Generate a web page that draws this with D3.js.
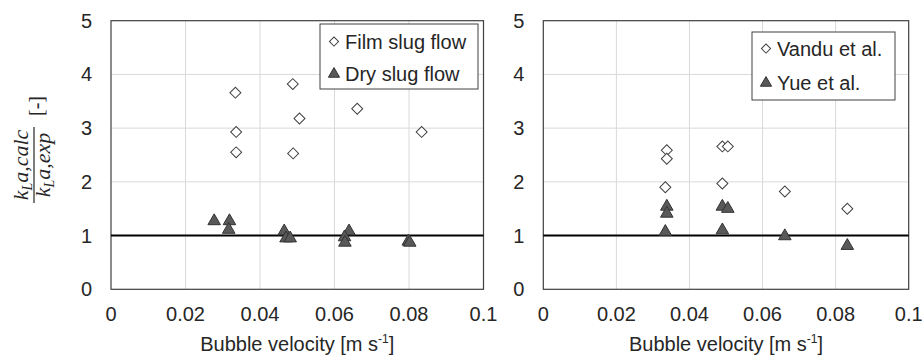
<!DOCTYPE html>
<html>
<head>
<meta charset="utf-8">
<script src="https://cdn.jsdelivr.net/npm/d3@7"></script>
<style>
  body { margin: 0; background: #fff; }
  svg { display: block; font-family: "Liberation Sans", Arial, sans-serif; }
</style>
</head>
<body>
<div id="chart"></div>
<script>
// left panel: film vs dry slug flow
const filmSlug = [
  [0.0334, 3.66], [0.0336, 2.93], [0.0336, 2.55], [0.0488, 3.82],
  [0.0506, 3.18], [0.0489, 2.53], [0.0661, 3.36], [0.0834, 2.93]
];
const drySlug = [
  [0.0277, 1.27], [0.0318, 1.27], [0.0316, 1.11], [0.0465, 1.08],
  [0.0470, 0.95], [0.0481, 0.95], [0.0639, 1.08], [0.0627, 0.97],
  [0.0628, 0.87], [0.0798, 0.89], [0.0802, 0.87]
];
// right panel: literature correlations
const vandu = [
  [0.0338, 2.59], [0.0338, 2.43], [0.0334, 1.90], [0.0490, 2.66],
  [0.0505, 2.66], [0.0490, 1.97], [0.0661, 1.82], [0.0832, 1.50]
];
const yue = [
  [0.0338, 1.54], [0.0338, 1.41], [0.0334, 1.07], [0.0490, 1.54],
  [0.0505, 1.50], [0.0490, 1.10], [0.0661, 0.99], [0.0832, 0.81]
];
const xTicks = [0, 0.02, 0.04, 0.06, 0.08, 0.1];
const yTicks = [0, 1, 2, 3, 4, 5];
const refLine = 1;

const width = 922, height = 355;
const plotTop = 20.7, plotBottom = 289.3;
const textColor = "#262626";
const fs = 20;

const svg = d3.select("#chart").append("svg")
  .attr("width", width)
  .attr("height", height);

const diamond = d3.symbol(d3.symbolSquare, 60);
const triangle = d3.symbol(d3.symbolTriangle, 68);

function panel(x0, x1, seriesA, seriesB, names, legendBox) {
  const x = d3.scaleLinear().domain([0, 0.1]).range([x0, x1]);
  const y = d3.scaleLinear().domain([0, 5]).range([plotBottom, plotTop]);
  const g = svg.append("g");

  // gridlines
  g.append("g").selectAll("line")
    .data(xTicks.slice(1, -1))
    .join("line")
    .attr("x1", d => x(d)).attr("x2", d => x(d))
    .attr("y1", plotTop).attr("y2", plotBottom)
    .attr("stroke", "#d9d9d9").attr("stroke-width", 1);
  g.append("g").selectAll("line")
    .data(yTicks.slice(1, -1))
    .join("line")
    .attr("x1", x0).attr("x2", x1)
    .attr("y1", d => y(d)).attr("y2", d => y(d))
    .attr("stroke", "#d9d9d9").attr("stroke-width", 1);

  // plot frame
  g.append("rect")
    .attr("x", x0).attr("y", plotTop)
    .attr("width", x1 - x0).attr("height", plotBottom - plotTop)
    .attr("fill", "none").attr("stroke", "#404040").attr("stroke-width", 1.2);

  // reference line at 1
  g.append("line")
    .attr("x1", x(0)).attr("x2", x(0.1))
    .attr("y1", y(refLine)).attr("y2", y(refLine))
    .attr("stroke", "#000").attr("stroke-width", 2);

  // tick labels
  g.append("g").selectAll("text")
    .data(xTicks)
    .join("text")
    .attr("x", d => x(d)).attr("y", plotBottom + 31.5)
    .attr("text-anchor", "middle")
    .attr("font-size", fs).attr("fill", textColor)
    .text(d => d);
  g.append("g").selectAll("text")
    .data(yTicks)
    .join("text")
    .attr("x", x0 - 19).attr("y", d => y(d) + 7)
    .attr("text-anchor", "end")
    .attr("font-size", fs).attr("fill", textColor)
    .text(d => d);

  // axis title
  const t = g.append("text")
    .attr("x", (x0 + x1) / 2).attr("y", 351)
    .attr("text-anchor", "middle")
    .attr("font-size", fs).attr("fill", textColor);
  t.append("tspan").text("Bubble velocity [m s");
  t.append("tspan").attr("font-size", 12).attr("dy", -8).text("-1");
  t.append("tspan").attr("dy", 8).text("]");

  // markers
  g.append("g").selectAll("path")
    .data(seriesA)
    .join("path")
    .attr("d", diamond)
    .attr("transform", d => `translate(${x(d[0])},${y(d[1])}) rotate(45)`)
    .attr("fill", "#fff").attr("stroke", "#404040").attr("stroke-width", 1);
  g.append("g").selectAll("path")
    .data(seriesB)
    .join("path")
    .attr("d", triangle)
    .attr("transform", d => `translate(${x(d[0])},${y(d[1])})`)
    .attr("fill", "#595959").attr("stroke", "#333").attr("stroke-width", 1);

  // legend
  const [lx, ly, lw, lh, r1, r2] = legendBox;
  const lg = g.append("g");
  lg.append("rect")
    .attr("x", lx).attr("y", ly).attr("width", lw).attr("height", lh)
    .attr("fill", "#fff").attr("stroke", "#404040").attr("stroke-width", 1);
  lg.append("path")
    .attr("d", d3.symbol(d3.symbolSquare, 42))
    .attr("transform", `translate(${lx + 14},${r1 - 7.5}) rotate(45)`)
    .attr("fill", "#fff").attr("stroke", "#404040");
  lg.append("path")
    .attr("d", d3.symbol(d3.symbolTriangle, 54))
    .attr("transform", `translate(${lx + 14},${r2 - 7})`)
    .attr("fill", "#595959").attr("stroke", "#333");
  lg.append("text").attr("x", lx + 25).attr("y", r1)
    .attr("font-size", fs).attr("fill", textColor).text(names[0]);
  lg.append("text").attr("x", lx + 25).attr("y", r2)
    .attr("font-size", fs).attr("fill", textColor).text(names[1]);
}

panel(111, 483.5, filmSlug, drySlug, ["Film slug flow", "Dry slug flow"],
  [320, 24, 158, 65, 49, 81]);
panel(543.3, 908.7, vandu, yue, ["Vandu et al.", "Yue et al."],
  [752, 32, 143, 68, 56, 90]);

// y axis label (fraction), rotated
const lab = svg.append("g")
  .attr("transform", "translate(34,165) rotate(-90)")
  .attr("font-family", "'Liberation Serif', 'DejaVu Serif', serif")
  .attr("fill", textColor);

function kla(sel, rest) {
  sel.append("tspan").text("k");
  sel.append("tspan").attr("font-size", 14).attr("dy", 4).text("L");
  sel.append("tspan").attr("dy", -4).text("a," + rest);
}
const num = lab.append("text")
  .attr("x", 0).attr("y", -6)
  .attr("text-anchor", "middle")
  .attr("font-size", 22).attr("font-style", "italic");
kla(num, "calc");
const den = lab.append("text")
  .attr("x", 0).attr("y", 16)
  .attr("text-anchor", "middle")
  .attr("font-size", 22).attr("font-style", "italic");
kla(den, "exp");
lab.append("line")
  .attr("x1", -38).attr("x2", 38)
  .attr("y1", 0).attr("y2", 0)
  .attr("stroke", textColor).attr("stroke-width", 1.2);
lab.append("text")
  .attr("x", 59).attr("y", 9)
  .attr("text-anchor", "middle")
  .attr("font-size", 20)
  .text("[-]");
</script>
</body>
</html>
